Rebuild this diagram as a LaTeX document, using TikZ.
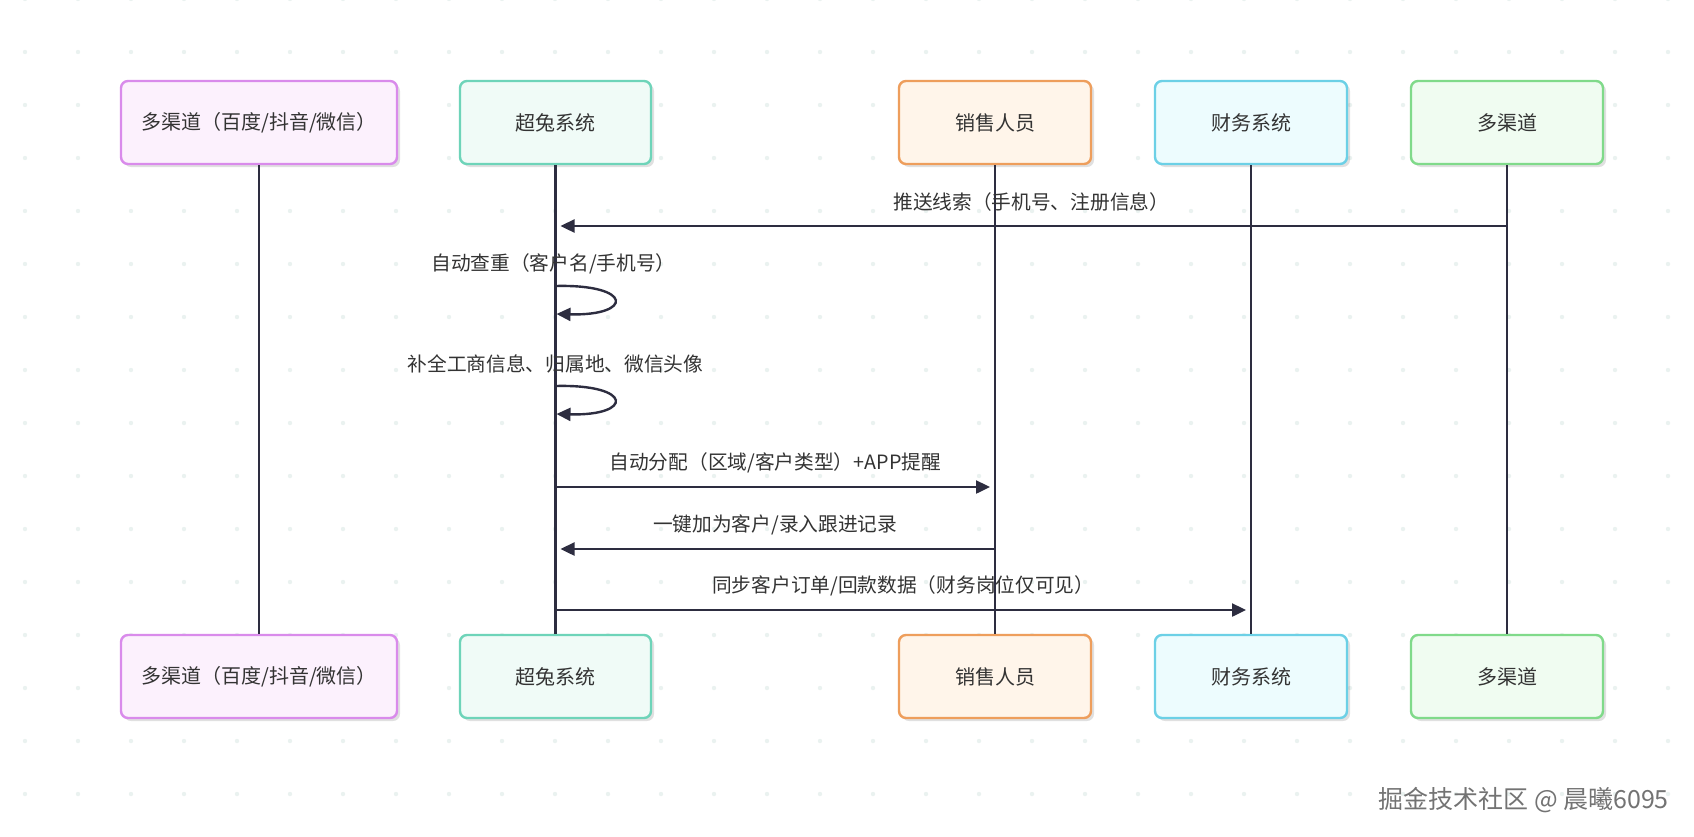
\documentclass[tikz,border=0pt]{standalone}
\usepackage{fontspec}
\setmainfont{Noto Sans CJK SC}
\usetikzlibrary{arrows.meta,shadows,calc}
\definecolor{linec}{HTML}{2D2D40}
\definecolor{txt}{HTML}{333333}
\definecolor{dotc}{HTML}{EAF2F0}
\definecolor{pB}{HTML}{D98BEB}\definecolor{pF}{HTML}{FCF1FD}
\definecolor{tB}{HTML}{6ED4B9}\definecolor{tF}{HTML}{F0FBF7}
\definecolor{oB}{HTML}{EE9E5C}\definecolor{oF}{HTML}{FFF5EA}
\definecolor{cB}{HTML}{6CD0E6}\definecolor{cF}{HTML}{EDFCFE}
\definecolor{gB}{HTML}{80DA8A}\definecolor{gF}{HTML}{F0FCF1}
\tikzset{
  actor/.style={draw=#1B, fill=#1F, line width=2.4pt, rounded corners=7pt,
    minimum height=83pt, text=txt, font=\fontsize{20}{24}\selectfont,
    drop shadow={shadow xshift=3pt, shadow yshift=-3pt, opacity=0.12, fill=black}},
  life/.style={draw=linec, line width=2.4pt},
  msg/.style={draw=linec, line width=2.4pt, -{Triangle[length=14pt,width=13pt]}, shorten >=5pt},
  loopmsg/.style={draw=linec, line width=2.4pt, -{Triangle[length=14pt,width=13pt]}},
  lbl/.style={text=txt, font=\fontsize{19.7}{23}\selectfont, inner sep=0pt},
}
\begin{document}
\begin{tikzpicture}[x=1pt,y=-1pt]
\useasboundingbox (0,0) rectangle (1694,836);
\fill[white] (0,0) rectangle (1694,836);
% background dots
\foreach \i in {0,...,31}{
  \foreach \j in {0,...,15}{
    \fill[dotc] ({25+53*\i},{-1+53*\j}) circle (2.2pt);
  }
}
% top actors
\node[actor=p, minimum width=276pt] (t1) at (259,122.5) {多渠道（百度/抖音/微信）};
\node[actor=t, minimum width=191pt] (t2) at (555.5,122.5) {超兔系统};
\node[actor=o, minimum width=192pt] (t3) at (995,122.5) {销售人员};
\node[actor=c, minimum width=192pt] (t4) at (1251,122.5) {财务系统};
\node[actor=g, minimum width=192pt] (t5) at (1507,122.5) {多渠道};
% bottom actors
\node[actor=p, minimum width=276pt] (b1) at (259,676.5) {多渠道（百度/抖音/微信）};
\node[actor=t, minimum width=191pt] (b2) at (555.5,676.5) {超兔系统};
\node[actor=o, minimum width=192pt] (b3) at (995,676.5) {销售人员};
\node[actor=c, minimum width=192pt] (b4) at (1251,676.5) {财务系统};
\node[actor=g, minimum width=192pt] (b5) at (1507,676.5) {多渠道};
% lifelines
\foreach \k in {1,...,5}{ \draw[life] (t\k.south) -- (b\k.north); }
% message anchor coordinates
\coordinate (m1a) at (t5.south |- 0,226);
\coordinate (m1b) at (t2.south |- 0,226);
\coordinate (s1a) at (t2.south |- 0,286);
\coordinate (s1b) at (t2.south |- 0,314);
\coordinate (s2a) at (t2.south |- 0,386);
\coordinate (s2b) at (t2.south |- 0,414);
\coordinate (m4a) at (t2.south |- 0,487);
\coordinate (m4b) at (t3.south |- 0,487);
\coordinate (m5a) at (t3.south |- 0,549);
\coordinate (m5b) at (t2.south |- 0,549);
\coordinate (m6a) at (t2.south |- 0,610);
\coordinate (m6b) at (t4.south |- 0,610);
% messages
\draw[msg] (m1a) -- (m1b);
\node[lbl] (l1) at ($(m1a)!0.5!(m1b)+(0,-24)$) {推送线索（手机号、注册信息）};
\draw[loopmsg] (s1a) .. controls ($(s1a)+(78,-2)$) and ($(s1b)+(78,2)$) .. ($(s1b)+(1,0)$);
\node[lbl] (l2) at ($(s1a)+(-2,-22)$) {自动查重（客户名/手机号）};
\draw[loopmsg] (s2a) .. controls ($(s2a)+(78,-2)$) and ($(s2b)+(78,2)$) .. ($(s2b)+(1,0)$);
\node[lbl] (l3) at ($(s2a)+(0,-22)$) {补全工商信息、归属地、微信头像};
\draw[msg] (m4a) -- (m4b);
\node[lbl] (l4) at ($(m4a)!0.5!(m4b)+(0,-24)$) {自动分配（区域/客户类型）+APP提醒};
\draw[msg] (m5a) -- (m5b);
\node[lbl] (l5) at ($(m5a)!0.5!(m5b)+(0,-24)$) {一键加为客户/录入跟进记录};
\draw[msg] (m6a) -- (m6b);
\node[lbl] (l6) at ($(m6a)!0.5!(m6b)+(0,-24)$) {同步客户订单/回款数据（财务岗位仅可见）};
% watermark
\node[text=black!55, font=\fontsize{25}{29}\selectfont, anchor=east, inner sep=0pt] (wm) at (1669,800) {掘金技术社区 @ 晨曦6095};
\end{tikzpicture}
\end{document}
